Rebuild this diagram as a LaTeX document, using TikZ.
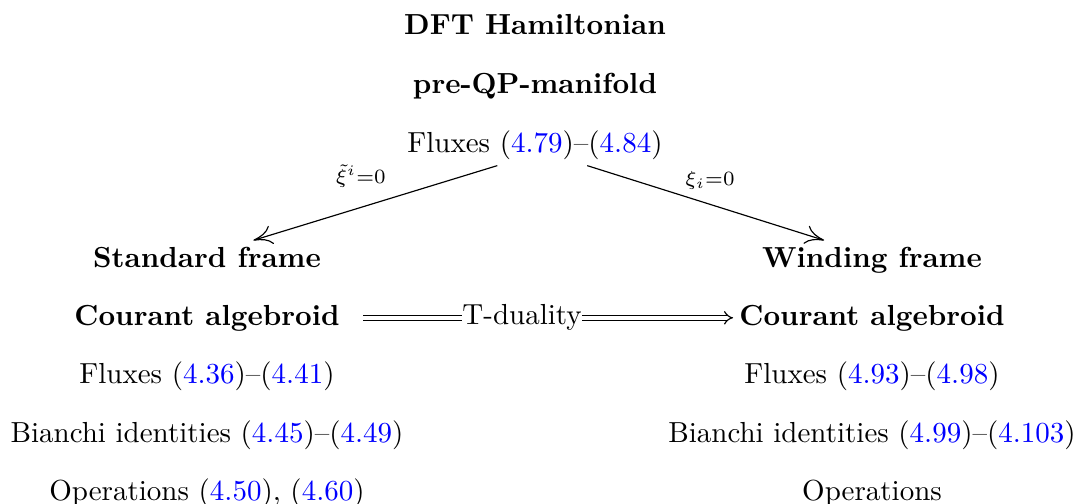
\documentclass[tikz,border=0pt]{standalone}
\usetikzlibrary{arrows.meta}
\definecolor{eqref}{rgb}{0,0,1}
\newcommand{\eqr}[1]{(\textcolor{eqref}{#1})}

\begin{document}
\begin{tikzpicture}[x=0.3448pt,y=-0.3448pt,
    every node/.style={inner sep=2pt},
    row/.style={anchor=base},
    lbl/.style={font=\scriptsize},
    maparrow/.style={-{To[length=6.5pt,width=6.5pt]}}]
  \useasboundingbox (0,0) rectangle (1076,504);
  % top block
  \node[row] (dft) at (535,35) {\textbf{DFT Hamiltonian}};
  \node[row] (qp) at (535,93.5) {\textbf{pre-QP-manifold}};
  \node[row] (fluxtop) at (535,152) {Fluxes \eqr{4.79}--\eqr{4.84}};
  % standard frame
  \node[row] (std) at (207,267) {\textbf{Standard frame}};
  \node[row] (stdca) at (207,325) {\textbf{Courant algebroid}};
  \node[row] (stdflux) at (207,383.5) {Fluxes \eqr{4.36}--\eqr{4.41}};
  \node[row] (stdbi) at (207,442) {Bianchi identities \eqr{4.45}--\eqr{4.49}};
  \node[row] (stdop) at (207,500) {Operations \eqr{4.50}, \eqr{4.60}};
  % winding frame
  \node[row] (wnd) at (872,267) {\textbf{Winding frame}};
  \node[row] (wndca) at (872,325) {\textbf{Courant algebroid}};
  \node[row] (wndflux) at (872,383.5) {Fluxes \eqr{4.93}--\eqr{4.98}};
  \node[row] (wndbi) at (872,442) {Bianchi identities \eqr{4.99}--\eqr{4.103}};
  \node[row] (wndop) at (872,500) {Operations};
  % arrows
  \draw[maparrow] ([xshift=-13pt]fluxtop.south) -- ([xshift=16pt]std.north)
    node[lbl,midway,above,xshift=-5pt,yshift=3pt] (lblstd) {$\tilde{\xi}^i{=}0$};
  \draw[maparrow] ([xshift=18pt]fluxtop.south) -- ([xshift=-16.5pt]wnd.north)
    node[lbl,midway,above,xshift=1.5pt,yshift=2.5pt] (lblwnd) {$\xi_i{=}0$};
  \draw[double,double distance=1.2pt,-{Implies},shorten <=6pt] (stdca.east) -- (wndca.west)
    node[pos=0.455,fill=white,inner sep=0pt] (tdual) {T-duality};
\end{tikzpicture}
\end{document}
